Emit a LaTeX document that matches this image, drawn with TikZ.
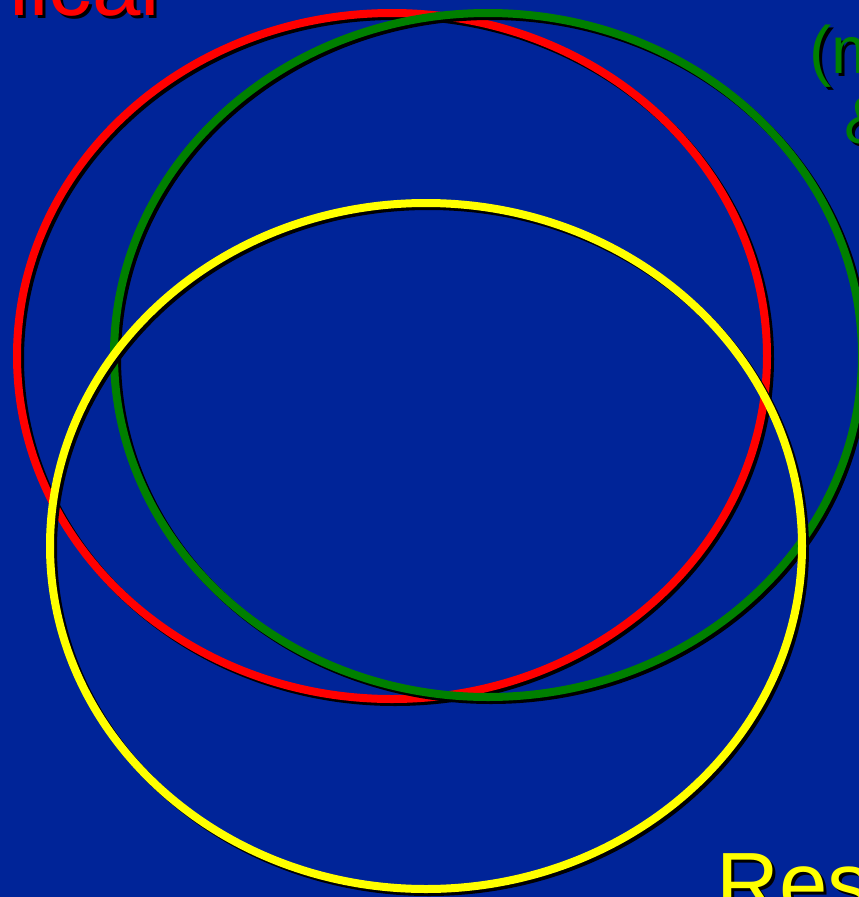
\documentclass[tikz,border=0pt]{standalone}
\usepackage{fontspec}
\setmainfont{Liberation Sans}
\usepackage{xcolor}
\definecolor{bgblue}{RGB}{0,36,152}
\definecolor{ringred}{RGB}{255,0,0}
\definecolor{ringgreen}{RGB}{0,128,0}
\definecolor{ringyellow}{RGB}{255,255,0}

\begin{document}
\begin{tikzpicture}[
    x=1pt, y=-1pt,
    ring/.style={line width=8pt},
    ringshadow/.style={line width=8pt, black, shift={(3,3)}},
    biglbl/.style={inner sep=0pt, font=\fontsize{87}{87}\selectfont},
    midlbl/.style={inner sep=0pt, font=\fontsize{67}{67}\selectfont}
]
    \fill[bgblue] (0,0) rectangle (859,897);
    \useasboundingbox (0,0) rectangle (859,897);
    \clip (0,0) rectangle (859,897);

    % red ring
    \draw[ringshadow] (392,356) ellipse [x radius=375, y radius=343];
    \draw[ring, ringred] (392,356) ellipse [x radius=375, y radius=343];
    % green ring
    \draw[ringshadow] (488,355) ellipse [x radius=374, y radius=342];
    \draw[ring, ringgreen] (488,355) ellipse [x radius=374, y radius=342];
    % yellow ring
    \draw[ringshadow] (426,546) ellipse [x radius=376, y radius=343];
    \draw[ring, ringyellow] (426,546) ellipse [x radius=376, y radius=343];

    % labels
    \node[biglbl, anchor=base east, text=black] (clinshadow) at (163,18) {nical};
    \node[biglbl, anchor=base east, text=ringred] (clin) at (160,15) {nical};

    \node[midlbl, anchor=base west, text=black] (molshadow) at (812,76) {(m};
    \node[midlbl, anchor=base west, text=ringgreen] (mol) at (809,73) {(m};
    \node[midlbl, anchor=base west, text=black] (ampshadow) at (847,146) {\&};
    \node[midlbl, anchor=base west, text=ringgreen] (amp) at (844,143) {\&};

    \node[biglbl, anchor=base west, text=black] (resshadow) at (719,916) {Res};
    \node[biglbl, anchor=base west, text=ringyellow] (res) at (716,913) {Res};
\end{tikzpicture}
\end{document}
